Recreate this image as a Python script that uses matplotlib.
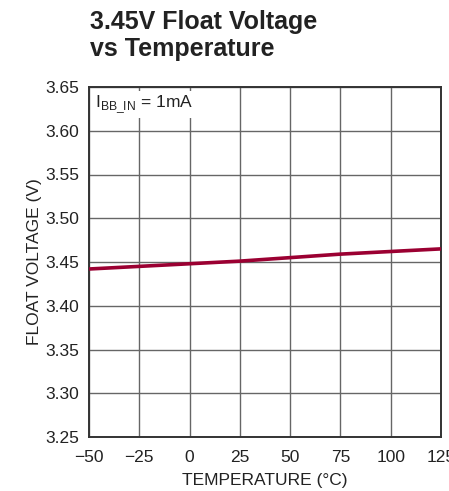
import matplotlib
matplotlib.use("Agg")
import matplotlib.pyplot as plt
from matplotlib import font_manager

names = {f.name for f in font_manager.fontManager.ttflist}
fam = "Liberation Sans Narrow" if "Liberation Sans Narrow" in names else "Liberation Sans"
plt.rcParams['font.family'] = [fam, 'DejaVu Sans']
plt.rcParams['mathtext.fontset'] = 'custom'
plt.rcParams['mathtext.rm'] = fam

temps = [-50, -25, 0, 25, 50, 75, 100, 125]
vfloat = [3.442, 3.445, 3.448, 3.451, 3.455, 3.459, 3.462, 3.465]
xticks = [-50, -25, 0, 25, 50, 75, 100, 125]
xticklabels = ['\u221250', '\u221225', '0', '25', '50', '75', '100', '125']
yticks = [3.25, 3.30, 3.35, 3.40, 3.45, 3.50, 3.55, 3.60, 3.65]

fig = plt.figure(figsize=(4.49, 4.91), dpi=100)
ax = fig.add_axes([89/449, 1-437/491, (441-89)/449, (437-87)/491])

ax.plot(temps, vfloat, color='#9b0032', lw=2.6, zorder=3, solid_capstyle='butt')
ax.set_xlim(-50, 125)
ax.set_ylim(3.25, 3.65)
ax.set_xticks(xticks)
ax.set_xticklabels(xticklabels)
ax.set_yticks(yticks)
ax.set_yticklabels([f"{v:.2f}" for v in yticks])
ax.grid(True, color='#666666', lw=1.0)
ax.tick_params(axis='y', length=0, labelsize=12.5, pad=7, colors='#222222')
ax.tick_params(axis='x', length=0, labelsize=12.5, pad=9, colors='#222222')
for s in ax.spines.values():
    s.set_color('#333333')
    s.set_linewidth(1.4)
ax.set_xlabel('TEMPERATURE (°C)', fontsize=12.5, color='#222222', labelpad=6)
ax.set_ylabel('FLOAT VOLTAGE (V)', fontsize=12.5, color='#222222', labelpad=2)

ax.text(-47, 3.630, r'I$_{\mathregular{BB\_IN}}$ = 1mA', fontsize=12.5, color='#222222',
        va='center', ha='left', zorder=4,
        bbox=dict(facecolor='white', edgecolor='none', pad=1.5))

fig.text(90/449, 1-10/491, '3.45V Float Voltage\nvs Temperature', fontsize=18,
         fontweight='bold', color='#222222', va='top', ha='left', linespacing=1.15)

fig.savefig('out.png', dpi=100)
